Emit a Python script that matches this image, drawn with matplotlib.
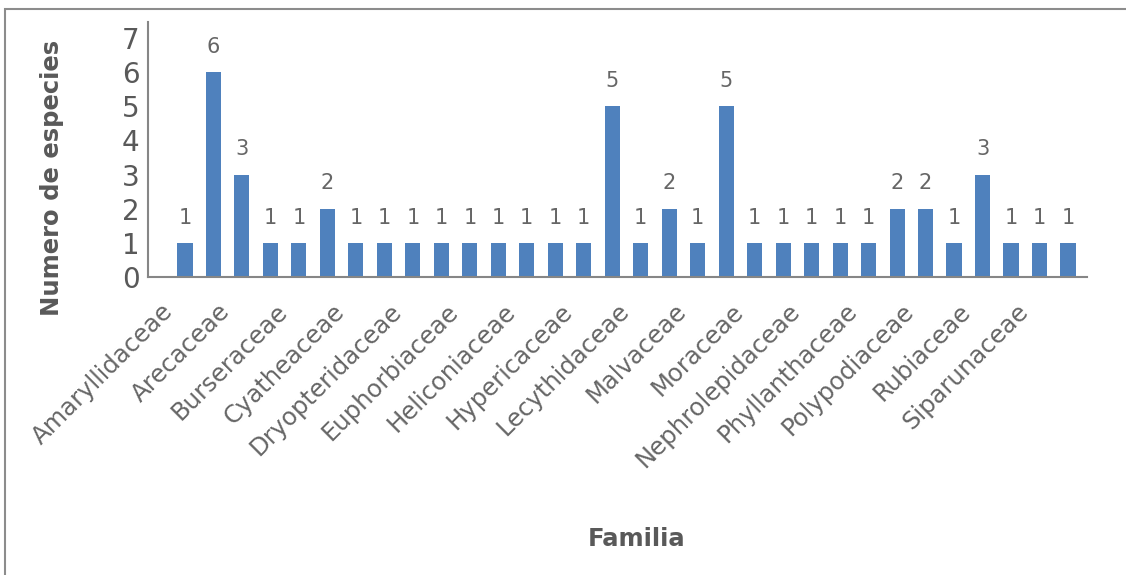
import numpy as np
import matplotlib.pyplot as plt
from matplotlib.patches import Rectangle
from matplotlib.transforms import ScaledTranslation


# species count per family (every other family is labelled on the axis)
species = [1, 6, 3, 1, 1, 2, 1, 1, 1, 1, 1, 1, 1, 1, 1, 5,
           1, 2, 1, 5, 1, 1, 1, 1, 1, 2, 2, 1, 3, 1, 1, 1]
shown_labels = ["Amaryllidaceae", "Arecaceae", "Burseraceae", "Cyatheaceae",
                "Dryopteridaceae", "Euphorbiaceae", "Heliconiaceae",
                "Hypericaceae", "Lecythidaceae", "Malvaceae", "Moraceae",
                "Nephrolepidaceae", "Phyllanthaceae", "Polypodiaceae",
                "Rubiaceae", "Siparunaceae"]
y_ticks = [0, 1, 2, 3, 4, 5, 6, 7]

plt.rcParams["font.family"] = ["DejaVu Sans"]

fig = plt.figure(figsize=(11.26, 5.75), dpi=100)
ax = fig.add_axes([0.1314, 0.5183, 0.834, 0.4434])

x = np.arange(len(species))
bars = ax.bar(x, species, width=0.53, color="#4F81BD", zorder=2)

for xi, v in zip(x, species):
    ax.annotate(str(v), (xi, v), xytext=(0, 11), textcoords="offset points",
                ha="center", va="bottom", fontsize=15, color="#666666")

ax.set_xlim(-1.3, len(species) - 0.33)
ax.set_ylim(0, 7.47)
ax.set_yticks(y_ticks)
ax.set_yticklabels([str(t) for t in y_ticks], fontsize=20, color="#595959")
ax.tick_params(axis="y", length=0, pad=6)

ax.set_xticks(x[::2])
ax.set_xticklabels(shown_labels, rotation=45, ha="right", va="center",
                   rotation_mode="anchor", fontsize=17.5, color="#666666")
ax.tick_params(axis="x", length=0, pad=22)
shift = ScaledTranslation(-11 / 72, 0, fig.dpi_scale_trans)
for lab in ax.get_xticklabels():
    lab.set_transform(lab.get_transform() + shift)

for side in ["top", "right"]:
    ax.spines[side].set_visible(False)
for side in ["left", "bottom"]:
    ax.spines[side].set_color("#868686")
    ax.spines[side].set_linewidth(1.5)

fig.text(0.046, 0.69, "Numero de especies", rotation=90, ha="center",
         va="center", fontsize=17.5, fontweight="bold", color="#595959")
fig.text(0.565, 0.062, "Familia", ha="center", va="center",
         fontsize=17.5, fontweight="bold", color="#595959")

# outer frame, open on the right and bottom edges
fig.patches.append(Rectangle((5 / 1126, -0.1), 1.2, 1.1 - 9 / 575,
                             transform=fig.transFigure, fill=False,
                             edgecolor="#8c8c8c", linewidth=1.5))

fig.savefig("out.png", dpi=100)
